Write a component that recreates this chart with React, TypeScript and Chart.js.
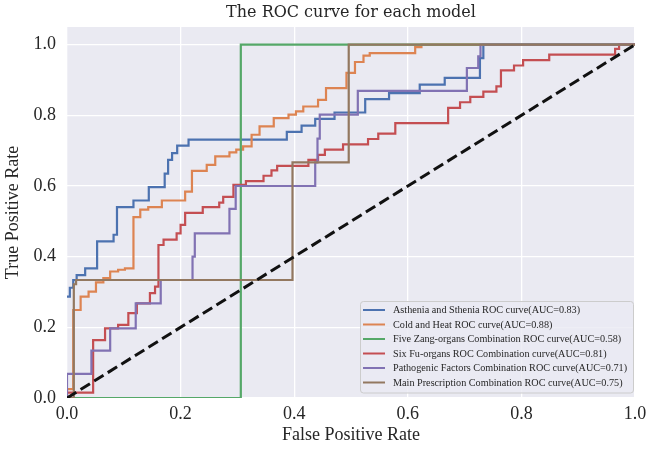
import React, { useEffect, useRef } from 'react';
import { Chart, registerables } from 'chart.js';

Chart.register(...registerables);

const chartTitle = 'The ROC curve for each model';
const xAxisLabel = 'False Positive Rate';
const yAxisLabel = 'True Positive Rate';
const xTickLabels = ['0.0', '0.2', '0.4', '0.6', '0.8', '1.0'];
const yTickLabels = ['0.0', '0.2', '0.4', '0.6', '0.8', '1.0'];

const seriesNames = [
  'Asthenia and Sthenia ROC curve(AUC=0.83)',
  'Cold and Heat ROC curve(AUC=0.88)',
  'Five Zang-organs Combination ROC curve(AUC=0.58)',
  'Six Fu-organs ROC Combination curve(AUC=0.81)',
  'Pathogenic Factors Combination ROC curve(AUC=0.71)',
  'Main Prescription Combination ROC curve(AUC=0.75)',
];
const seriesColors = ['#4C72B0', '#DD8452', '#55A868', '#C44E52', '#8172B3', '#937860'];

// Step points: each point = (fpr where the step happens, tpr after the step)
const asthFpr = [0, 0.005, 0.011, 0.017, 0.032, 0.053, 0.082, 0.088, 0.117, 0.144, 0.172, 0.178, 0.185, 0.194, 0.214, 0.387, 0.413, 0.437, 0.471, 0.525, 0.567, 0.621, 0.665, 0.727, 0.733, 1.0];
const asthTpr = [0.287, 0.312, 0.334, 0.348, 0.367, 0.443, 0.462, 0.540, 0.559, 0.597, 0.635, 0.674, 0.693, 0.714, 0.731, 0.753, 0.771, 0.790, 0.808, 0.846, 0.863, 0.887, 0.906, 0.962, 1.0, 1.0];

const coldFpr = [0, 0, 0.011, 0.024, 0.038, 0.051, 0.064, 0.076, 0.090, 0.102, 0.117, 0.129, 0.143, 0.167, 0.208, 0.220, 0.246, 0.261, 0.286, 0.298, 0.310, 0.325, 0.339, 0.364, 0.390, 0.403, 0.416, 0.442, 0.456, 0.492, 0.507, 0.522, 0.533, 0.613, 0.624, 1.0];
const coldTpr = [0, 0.025, 0.249, 0.287, 0.301, 0.327, 0.339, 0.358, 0.363, 0.367, 0.512, 0.533, 0.540, 0.559, 0.584, 0.643, 0.660, 0.684, 0.695, 0.703, 0.712, 0.745, 0.769, 0.792, 0.802, 0.811, 0.825, 0.844, 0.877, 0.920, 0.951, 0.969, 0.976, 0.993, 1.0, 1.0];

const zangFpr = [0, 0.306, 1.0];
const zangTpr = [0, 1.0, 1.0];

const fuFpr = [0, 0, 0.046, 0.067, 0.090, 0.108, 0.123, 0.146, 0.155, 0.161, 0.170, 0.193, 0.200, 0.208, 0.239, 0.268, 0.275, 0.293, 0.315, 0.346, 0.360, 0.370, 0.425, 0.442, 0.454, 0.486, 0.530, 0.548, 0.578, 0.671, 0.692, 0.710, 0.733, 0.756, 0.764, 0.787, 0.803, 0.849, 0.965, 0.972, 1.0];
const fuTpr = [0, 0.015, 0.164, 0.197, 0.207, 0.240, 0.268, 0.297, 0.315, 0.433, 0.448, 0.466, 0.490, 0.524, 0.540, 0.553, 0.569, 0.603, 0.614, 0.629, 0.644, 0.657, 0.674, 0.688, 0.703, 0.718, 0.733, 0.748, 0.778, 0.821, 0.837, 0.852, 0.867, 0.882, 0.927, 0.941, 0.956, 0.972, 0.988, 1.0, 1.0];

const pathoFpr = [0, 0, 0.043, 0.076, 0.121, 0.165, 0.221, 0.225, 0.286, 0.297, 0.437, 0.441, 0.445, 0.512, 0.704, 0.724, 0.728, 1.0];
const pathoTpr = [0, 0.068, 0.134, 0.197, 0.268, 0.334, 0.400, 0.466, 0.535, 0.600, 0.667, 0.734, 0.802, 0.869, 0.934, 0.967, 1.0, 1.0];

const mainFpr = [0, 0.012, 0.016, 0.397, 0.496, 1.0];
const mainTpr = [0, 0.322, 0.334, 0.667, 1.0, 1.0];

const chanceFpr = [0, 1];
const chanceTpr = [0, 1];

const seriesFpr = [asthFpr, coldFpr, zangFpr, fuFpr, pathoFpr, mainFpr];
const seriesTpr = [asthTpr, coldTpr, zangTpr, fuTpr, pathoTpr, mainTpr];

const TEXT = '#262626';
const SERIF = '"Liberation Serif", "Times New Roman", serif';

const decorPlugin = {
  id: 'decor',
  beforeDraw(chart: any) {
    const { ctx, chartArea: a, width, height } = chart;
    ctx.save();
    ctx.fillStyle = '#ffffff';
    ctx.fillRect(0, 0, width, height);
    ctx.fillStyle = '#EAEAF2';
    ctx.fillRect(a.left, a.top, a.right - a.left, a.bottom - a.top);
    ctx.restore();
  },
  afterDraw(chart: any) {
    const { ctx, chartArea: a } = chart;
    ctx.save();
    // title
    ctx.fillStyle = TEXT;
    ctx.font = '16px "DejaVu Serif", serif';
    ctx.textAlign = 'center';
    ctx.textBaseline = 'middle';
    ctx.fillText(chartTitle, (a.left + a.right) / 2, 13);

    // legend
    const bx = 360.5, by = 301.5, bw = 273, bh = 91.5, r = 3;
    ctx.beginPath();
    ctx.moveTo(bx + r, by);
    ctx.lineTo(bx + bw - r, by);
    ctx.quadraticCurveTo(bx + bw, by, bx + bw, by + r);
    ctx.lineTo(bx + bw, by + bh - r);
    ctx.quadraticCurveTo(bx + bw, by + bh, bx + bw - r, by + bh);
    ctx.lineTo(bx + r, by + bh);
    ctx.quadraticCurveTo(bx, by + bh, bx, by + bh - r);
    ctx.lineTo(bx, by + r);
    ctx.quadraticCurveTo(bx, by, bx + r, by);
    ctx.closePath();
    ctx.fillStyle = 'rgba(234,234,242,0.8)';
    ctx.fill();
    ctx.strokeStyle = '#cccccc';
    ctx.lineWidth = 1;
    ctx.stroke();

    ctx.font = '10.2px ' + SERIF;
    ctx.textAlign = 'left';
    ctx.textBaseline = 'middle';
    seriesNames.forEach((name, i) => {
      const y = 310 + i * 14.5;
      ctx.strokeStyle = seriesColors[i];
      ctx.lineWidth = 2;
      ctx.beginPath();
      ctx.moveTo(363, y);
      ctx.lineTo(385, y);
      ctx.stroke();
      ctx.fillStyle = TEXT;
      ctx.fillText(name, 393, y + 0.5);
    });
    ctx.restore();
  },
};

export default function App() {
  const ref = useRef<HTMLCanvasElement | null>(null);

  useEffect(() => {
    if (!ref.current) return;
    const n = seriesNames.length;
    const datasets: any[] = seriesNames.map((name, i) => ({
      label: name,
      data: seriesFpr[i].map((x, k) => ({ x, y: seriesTpr[i][k] })),
      borderColor: seriesColors[i],
      backgroundColor: seriesColors[i],
      borderWidth: 2.2,
      pointRadius: 0,
      stepped: 'before',
      fill: false,
      clip: 0,
      order: n - i,
    }));
    datasets.push({
      label: 'chance',
      data: chanceFpr.map((x, k) => ({ x, y: chanceTpr[k] })),
      borderColor: '#111111',
      borderWidth: 3,
      borderDash: [11, 5],
      pointRadius: 0,
      fill: false,
      clip: 0,
      order: 0,
    });

    const chart = new Chart(ref.current, {
      type: 'line',
      data: { datasets },
      plugins: [decorPlugin],
      options: {
        responsive: false,
        animation: false,
        devicePixelRatio: 1,
        layout: { padding: { top: 27, right: 14, left: 0, bottom: 0 } },
        plugins: {
          legend: { display: false },
          title: { display: false },
          tooltip: { enabled: false },
        },
        scales: {
          x: {
            type: 'linear',
            min: 0,
            max: 1,
            border: { display: false },
            grid: { color: '#ffffff', lineWidth: 1.3, drawTicks: false },
            ticks: {
              stepSize: 0.2,
              includeBounds: false,
              padding: 5,
              color: TEXT,
              font: { family: SERIF, size: 18 },
              maxRotation: 0,
              callback: (_v: any, i: number) => xTickLabels[i],
            },
            title: {
              display: true,
              text: xAxisLabel,
              color: TEXT,
              font: { family: SERIF, size: 18 },
              padding: { top: 0, bottom: 8 },
            },
            afterFit: (s: any) => { s.height = 56; s.paddingLeft = 0; s.paddingRight = 0; },
          },
          y: {
            type: 'linear',
            min: 0,
            max: 1.05,
            border: { display: false },
            grid: { color: '#ffffff', lineWidth: 1.3, drawTicks: false },
            ticks: {
              stepSize: 0.2,
              includeBounds: false,
              padding: 11,
              color: TEXT,
              font: { family: SERIF, size: 18 },
              callback: (_v: any, i: number) => yTickLabels[i],
            },
            title: {
              display: true,
              text: yAxisLabel,
              color: TEXT,
              font: { family: SERIF, size: 18 },
              padding: { top: 2, bottom: 0 },
            },
            afterFit: (s: any) => { s.width = 67; s.paddingTop = 0; s.paddingBottom = 0; },
          },
        },
      } as any,
    });
    return () => chart.destroy();
  }, []);

  return (
    <div style={{ position: 'fixed', left: 0, top: 0, width: 649, height: 454, background: '#fff' }}>
      <canvas ref={ref} width={649} height={454} style={{ width: 649, height: 454, display: 'block' }} />
    </div>
  );
}
